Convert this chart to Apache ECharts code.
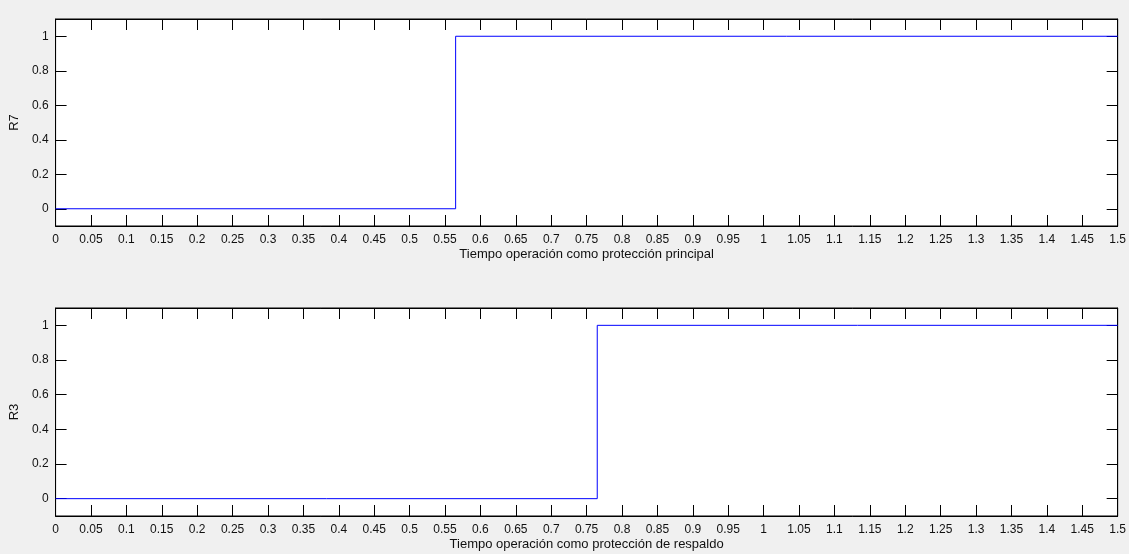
<!DOCTYPE html>
<html>
<head>
<meta charset="utf-8">
<script src="https://cdn.jsdelivr.net/npm/echarts@6/dist/echarts.min.js"></script>
<style>
html,body{margin:0;padding:0;background:#f0f0f0;}
#c{width:1129px;height:554px;}
</style>
</head>
<body>
<div id="c"></div>
<script>
// Data
const r7Time = [0, 0.565, 1.5];
const r7Value = [0, 1, 1];
const r3Time = [0, 0.765, 1.5];
const r3Value = [0, 1, 1];
const yTicks = [0, 0.2, 0.4, 0.6, 0.8, 1];
const xLabelTop = 'Tiempo operación como protección principal';
const xLabelBottom = 'Tiempo operación como protección de respaldo';
const yLabelTop = 'R7';
const yLabelBottom = 'R3';

const FONT = 'Liberation Sans';
const TXT = '#111';
const fmt = v => String(Math.round(v * 1000) / 1000);

function pairs(xs, ys) { return xs.map((x, i) => [x, ys[i]]); }

const grids = [
  {left: 55, top: 19, width: 1064, height: 207},
  {left: 55, top: 308, width: 1064, height: 208}
];

function xAxes(gi, name) {
  return [
    {
      gridIndex: gi, type: 'value', min: 0, max: 1.5, interval: 0.05, position: 'bottom',
      name: name, nameLocation: 'middle', nameGap: 22,
      nameTextStyle: {color: TXT, fontFamily: FONT, fontSize: 13},
      axisLine: {show: true, onZero: false, lineStyle: {color: '#000', width: 1}},
      axisTick: {show: true, inside: true, length: 11, lineStyle: {color: '#000'}},
      axisLabel: {show: true, interval: 0, margin: 8, color: TXT, fontFamily: FONT, fontSize: 12, formatter: fmt, hideOverlap: false},
      splitLine: {show: false}
    },
    {
      gridIndex: gi, type: 'value', min: 0, max: 1.5, interval: 0.05, position: 'top',
      axisLine: {show: true, onZero: false, lineStyle: {color: '#000', width: 1}},
      axisTick: {show: true, inside: true, length: 11, lineStyle: {color: '#000'}},
      axisLabel: {show: false},
      splitLine: {show: false}
    }
  ];
}

function yAxes(gi, name) {
  return [
    {
      gridIndex: gi, type: 'value', min: -0.1, max: 1.1, position: 'left',
      name: name, nameLocation: 'middle', nameGap: 31, nameRotate: 90,
      nameTextStyle: {color: TXT, fontFamily: FONT, fontSize: 13},
      axisLine: {show: true, onZero: false, lineStyle: {color: '#000', width: 1}},
      axisTick: {show: true, inside: true, length: 11, customValues: yTicks, lineStyle: {color: '#000'}},
      axisLabel: {show: true, margin: 7, color: TXT, fontFamily: FONT, fontSize: 12, customValues: yTicks, formatter: fmt},
      splitLine: {show: false}
    },
    {
      gridIndex: gi, type: 'value', min: -0.1, max: 1.1, position: 'right',
      axisLine: {show: true, onZero: false, lineStyle: {color: '#000', width: 1}},
      axisTick: {show: true, inside: true, length: 11, customValues: yTicks, lineStyle: {color: '#000'}},
      axisLabel: {show: false},
      splitLine: {show: false}
    }
  ];
}

const chart = echarts.init(document.getElementById('c'), null, {renderer: 'canvas'});
chart.setOption({
  backgroundColor: '#f0f0f0',
  animation: false,
  grid: grids.map(g => Object.assign({show: true, backgroundColor: '#fff', borderColor: '#000', borderWidth: 1, containLabel: false}, g)),
  xAxis: [...xAxes(0, xLabelTop), ...xAxes(1, xLabelBottom)],
  yAxis: [...yAxes(0, yLabelTop), ...yAxes(1, yLabelBottom)],
  series: [
    {type: 'line', xAxisIndex: 0, yAxisIndex: 0, step: 'end', data: pairs(r7Time, r7Value),
     showSymbol: false, lineStyle: {color: '#0000ff', width: 1}, silent: true},
    {type: 'line', xAxisIndex: 2, yAxisIndex: 2, step: 'end', data: pairs(r3Time, r3Value),
     showSymbol: false, lineStyle: {color: '#0000ff', width: 1}, silent: true}
  ]
});
</script>
</body>
</html>
